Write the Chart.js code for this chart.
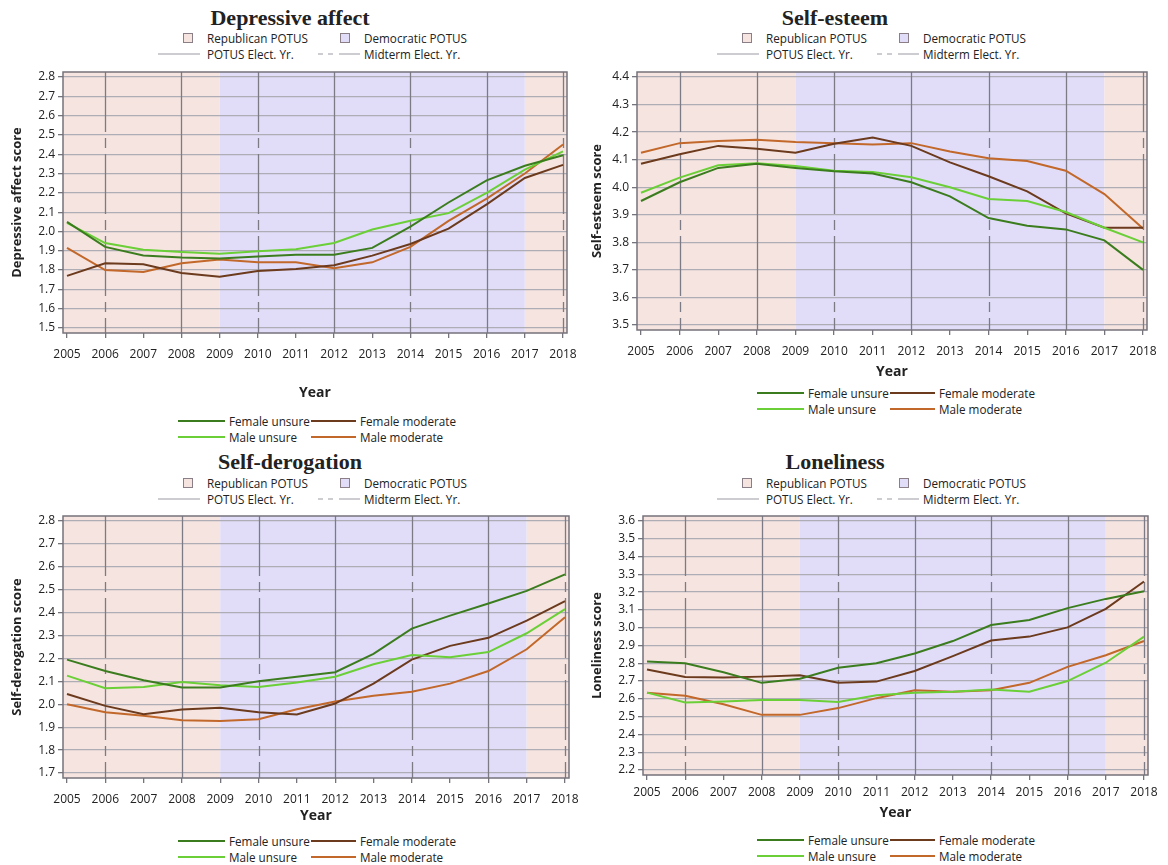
<!DOCTYPE html>
<html lang="en">
<head>
<meta charset="UTF-8">
<title>Wellbeing scores by year</title>
<script src="https://cdn.jsdelivr.net/npm/chart.js"></script>
<style>
    body {
        margin: 0;
        width: 1168px;
        height: 865px;
        position: relative;
        overflow: hidden;
        background: #fff;
        color: #222;
        font-family: 'Open Sans', sans-serif;
    }
    canvas { position: absolute; }
    .title {
        position: absolute;
        transform: translate(-50%, -50%);
        font-family: 'Liberation Serif', serif;
        font-weight: bold;
        font-size: 22px;
        white-space: nowrap;
    }
    .item {
        position: absolute;
        transform: translateY(-50%);
        font-size: 11.7px;
        white-space: nowrap;
    }
    .box {
        position: absolute;
        width: 8px;
        height: 8px;
        border: 1px solid #8a7f86;
        transform: translateY(-50%);
    }
    .ln {
        position: absolute;
        height: 0;
        transform: translateY(-50%);
    }
</style>
</head>
<body>
<script>
    const years = [2005, 2006, 2007, 2008, 2009, 2010, 2011, 2012, 2013, 2014, 2015, 2016, 2017, 2018];
    const seriesNames = ['Female unsure', 'Male unsure', 'Female moderate', 'Male moderate'];

    // Depressive affect
    const depTicks = [1.5, 1.6, 1.7, 1.8, 1.9, 2.0, 2.1, 2.2, 2.3, 2.4, 2.5, 2.6, 2.7, 2.8];
    const depFemaleUnsure   = [2.05, 1.92, 1.875, 1.865, 1.86, 1.87, 1.88, 1.88, 1.915, 2.025, 2.15, 2.265, 2.34, 2.395];
    const depMaleUnsure     = [2.045, 1.94, 1.905, 1.893, 1.885, 1.898, 1.908, 1.94, 2.01, 2.055, 2.095, 2.2, 2.32, 2.415];
    const depFemaleModerate = [1.77, 1.835, 1.83, 1.785, 1.765, 1.795, 1.805, 1.825, 1.875, 1.935, 2.015, 2.14, 2.277, 2.345];
    const depMaleModerate   = [1.915, 1.8, 1.79, 1.835, 1.855, 1.84, 1.84, 1.81, 1.84, 1.92, 2.055, 2.17, 2.3, 2.45];

    // Self-esteem
    const estTicks = [3.5, 3.6, 3.7, 3.8, 3.9, 4.0, 4.1, 4.2, 4.3, 4.4];
    const estFemaleUnsure   = [3.95, 4.018, 4.07, 4.085, 4.07, 4.058, 4.05, 4.018, 3.967, 3.888, 3.86, 3.847, 3.807, 3.7];
    const estMaleUnsure     = [3.98, 4.035, 4.08, 4.087, 4.077, 4.06, 4.055, 4.036, 4.0, 3.957, 3.95, 3.91, 3.853, 3.8];
    const estFemaleModerate = [4.085, 4.12, 4.15, 4.14, 4.125, 4.158, 4.18, 4.15, 4.09, 4.04, 3.985, 3.905, 3.853, 3.853];
    const estMaleModerate   = [4.125, 4.16, 4.168, 4.172, 4.164, 4.16, 4.155, 4.16, 4.13, 4.105, 4.095, 4.06, 3.975, 3.85];

    // Self-derogation
    const derTicks = [1.7, 1.8, 1.9, 2.0, 2.1, 2.2, 2.3, 2.4, 2.5, 2.6, 2.7, 2.8];
    const derFemaleUnsure   = [2.195, 2.145, 2.105, 2.073, 2.073, 2.1, 2.12, 2.14, 2.22, 2.33, 2.387, 2.44, 2.495, 2.567];
    const derMaleUnsure     = [2.125, 2.07, 2.075, 2.097, 2.083, 2.075, 2.095, 2.12, 2.175, 2.215, 2.205, 2.228, 2.31, 2.415];
    const derFemaleModerate = [2.045, 1.993, 1.957, 1.977, 1.985, 1.965, 1.955, 2.003, 2.09, 2.195, 2.255, 2.29, 2.365, 2.45];
    const derMaleModerate   = [2.0, 1.965, 1.95, 1.93, 1.927, 1.935, 1.978, 2.012, 2.037, 2.055, 2.09, 2.145, 2.24, 2.38];

    // Loneliness
    const lonTicks = [2.2, 2.3, 2.4, 2.5, 2.6, 2.7, 2.8, 2.9, 3.0, 3.1, 3.2, 3.3, 3.4, 3.5, 3.6];
    const lonFemaleUnsure   = [2.81, 2.8, 2.75, 2.69, 2.713, 2.775, 2.8, 2.855, 2.925, 3.015, 3.043, 3.11, 3.162, 3.205];
    const lonMaleUnsure     = [2.635, 2.58, 2.585, 2.594, 2.594, 2.583, 2.62, 2.635, 2.64, 2.653, 2.64, 2.7, 2.803, 2.95];
    const lonFemaleModerate = [2.765, 2.723, 2.72, 2.725, 2.733, 2.69, 2.697, 2.757, 2.84, 2.928, 2.95, 3.002, 3.106, 3.26];
    const lonMaleModerate   = [2.635, 2.617, 2.57, 2.51, 2.51, 2.548, 2.604, 2.648, 2.64, 2.648, 2.69, 2.78, 2.845, 2.925];

    // party of the president, and election years
    const partyPeriods = [['R', 2004, 2009], ['D', 2009, 2017], ['R', 2017, 2019]];
    const potusElectionYears = [2008, 2012, 2016];
    const midtermElectionYears = [2006, 2010, 2014, 2018];

    const colors = ['#3b7d1e', '#6bcf37', '#6c3a1c', '#c2682a'];
    const partyFill = { R: '#f6e4e0', D: '#e1ddf9' };
    const dashPattern = [60, 6, 10, 6];

    const panels = [
        { title: 'Depressive affect', yTitle: 'Depressive affect score', ticks: depTicks,
          series: [depFemaleUnsure, depMaleUnsure, depFemaleModerate, depMaleModerate],
          canvas: { x: 0, y: 64, w: 590, h: 341 }, area: { l: 63, r: 567, t: 72, b: 333 }, tickPad: 9,
          titleAt: [290, 18], legTop: [183, 38], legBottom: [178, 421] },
        { title: 'Self-esteem', yTitle: 'Self-esteem score', ticks: estTicks,
          series: [estFemaleUnsure, estMaleUnsure, estFemaleModerate, estMaleModerate],
          canvas: { x: 580, y: 64, w: 588, h: 320 }, area: { l: 637, r: 1147, t: 72, b: 330 }, tickPad: 9,
          titleAt: [835, 18], legTop: [742, 38], legBottom: [757, 393] },
        { title: 'Self-derogation', yTitle: 'Self-derogation score', ticks: derTicks,
          series: [derFemaleUnsure, derMaleUnsure, derFemaleModerate, derMaleModerate],
          canvas: { x: 0, y: 508, w: 590, h: 320 }, area: { l: 63, r: 569, t: 516, b: 778 }, tickPad: 9,
          titleAt: [290, 462], legTop: [183, 483], legBottom: [178, 841] },
        { title: 'Loneliness', yTitle: 'Loneliness score', ticks: lonTicks,
          series: [lonFemaleUnsure, lonMaleUnsure, lonFemaleModerate, lonMaleModerate],
          canvas: { x: 580, y: 508, w: 588, h: 317 }, area: { l: 643, r: 1148, t: 516, b: 775 }, tickPad: 5,
          titleAt: [835, 462], legTop: [742, 483], legBottom: [757, 840] }
    ];

    function add(cls, x, y, text, style) {
        const el = document.createElement('div');
        el.className = cls;
        el.style.left = x + 'px';
        el.style.top = y + 'px';
        if (text) el.textContent = text;
        if (style) Object.assign(el.style, style);
        document.body.appendChild(el);
        return el;
    }

    function solidLine(x, y, w, color) {
        add('ln', x, y, null, { width: w + 'px', borderTop: '2px solid ' + color });
    }

    function drawTopLegend(x0, y0) {
        const y1 = y0 + 16;
        add('box', x0, y0, null, { background: partyFill.R });
        add('item', x0 + 24, y0, 'Republican POTUS');
        add('box', x0 + 157, y0, null, { background: partyFill.D });
        add('item', x0 + 181, y0, 'Democratic POTUS');
        add('ln', x0 - 25, y1, null, { width: '42px', borderTop: '1px solid #9c9aa2' });
        add('item', x0 + 24, y1, 'POTUS Elect. Yr.');
        add('ln', x0 + 135, y1, null, { width: '5px', borderTop: '1px solid #9c9aa2' });
        add('ln', x0 + 145, y1, null, { width: '5px', borderTop: '1px solid #9c9aa2' });
        add('ln', x0 + 156, y1, null, { width: '21px', borderTop: '1px solid #9c9aa2' });
        add('item', x0 + 181, y1, 'Midterm Elect. Yr.');
    }

    function drawBottomLegend(x1, y0) {
        const y1 = y0 + 16;
        solidLine(x1, y0, 47, colors[0]);
        add('item', x1 + 51, y0, seriesNames[0]);
        solidLine(x1 + 133, y0, 45, colors[2]);
        add('item', x1 + 182, y0, seriesNames[2]);
        solidLine(x1, y1, 47, colors[1]);
        add('item', x1 + 51, y1, seriesNames[1]);
        solidLine(x1 + 133, y1, 45, colors[3]);
        add('item', x1 + 182, y1, seriesNames[3]);
    }

    const electionPlugin = {
        id: 'election',
        beforeDraw(chart) {
            const { ctx, chartArea: a, scales: { x } } = chart;
            ctx.save();
            partyPeriods.forEach(([party, from, to]) => {
                const x0 = Math.max(a.left, x.getPixelForValue(from));
                const x1 = Math.min(a.right, x.getPixelForValue(to));
                ctx.fillStyle = partyFill[party];
                ctx.fillRect(x0, a.top, x1 - x0, a.bottom - a.top);
            });
            ctx.restore();
        },
        beforeDatasetsDraw(chart) {
            const { ctx, chartArea: a, scales: { x } } = chart;
            ctx.save();
            ctx.strokeStyle = '#7c7a84';
            ctx.lineWidth = 1.3;
            potusElectionYears.forEach(yr => {
                const px = Math.round(x.getPixelForValue(yr)) + 0.5;
                ctx.beginPath(); ctx.moveTo(px, a.top); ctx.lineTo(px, a.bottom); ctx.stroke();
            });
            ctx.setLineDash(dashPattern);
            midtermElectionYears.forEach(yr => {
                const px = Math.round(x.getPixelForValue(yr)) + 0.5;
                ctx.beginPath(); ctx.moveTo(px, a.top); ctx.lineTo(px, a.bottom); ctx.stroke();
            });
            ctx.restore();
        },
        afterDatasetsDraw(chart) {
            const { ctx, chartArea: a } = chart;
            ctx.save();
            ctx.strokeStyle = '#75737b';
            ctx.lineWidth = 1.5;
            ctx.strokeRect(a.left, a.top, a.right - a.left, a.bottom - a.top);
            ctx.restore();
        }
    };

    panels.forEach(p => {
        const c = p.canvas, a = p.area;
        add('title', p.titleAt[0], p.titleAt[1], p.title);
        drawTopLegend(p.legTop[0], p.legTop[1]);
        drawBottomLegend(p.legBottom[0], p.legBottom[1]);

        const cv = document.createElement('canvas');
        cv.width = c.w; cv.height = c.h;
        cv.style.left = c.x + 'px'; cv.style.top = c.y + 'px';
        document.body.appendChild(cv);

        const tickLo = p.ticks[0], tickHi = p.ticks[p.ticks.length - 1];
        const yPad = (tickHi - tickLo) * 5 / (a.b - a.t - 10);
        const xPad = 13 * 4 / (a.r - a.l - 8);

        new Chart(cv, {
            type: 'line',
            data: {
                datasets: p.series.map((vals, i) => ({
                    label: seriesNames[i],
                    data: years.map((yr, j) => ({ x: yr, y: vals[j] })),
                    borderColor: colors[i],
                    borderWidth: 2,
                    pointRadius: 0,
                    tension: 0,
                    fill: false
                }))
            },
            options: {
                responsive: false,
                animation: false,
                devicePixelRatio: 1,
                layout: { padding: { left: 0, top: a.t - c.y, right: c.x + c.w - a.r, bottom: 0 } },
                plugins: { legend: { display: false }, tooltip: { enabled: false } },
                scales: {
                    x: {
                        type: 'linear',
                        min: years[0] - xPad,
                        max: years[years.length - 1] + xPad,
                        afterBuildTicks: s => { s.ticks = years.map(v => ({ value: v })); },
                        afterFit: s => {
                            s.height = c.y + c.h - a.b;
                            s.paddingLeft = 0;
                            s.paddingRight = 0;
                        },
                        ticks: {
                            autoSkip: false, maxRotation: 0, padding: p.tickPad, color: '#222',
                            font: { family: 'Open Sans', size: 12 },
                            callback: v => String(v)
                        },
                        grid: { drawOnChartArea: false, tickLength: 5, tickColor: '#75737b', lineWidth: 1.3 },
                        border: { display: false },
                        title: {
                            display: true, text: 'Year', color: '#222',
                            font: { family: 'Open Sans', size: 14, weight: 'bold' },
                            padding: { top: 0, bottom: 4 }
                        }
                    },
                    y: {
                        min: tickLo - yPad,
                        max: tickHi + yPad,
                        afterBuildTicks: s => { s.ticks = p.ticks.map(v => ({ value: v })); },
                        afterFit: s => {
                            s.width = a.l - c.x;
                            s.paddingTop = 0;
                            s.paddingBottom = 0;
                        },
                        ticks: {
                            padding: 3, color: '#222',
                            font: { family: 'Open Sans', size: 12 },
                            callback: v => v.toFixed(1)
                        },
                        grid: { color: '#aeacb4', lineWidth: 1.3, tickLength: 5, tickColor: '#75737b' },
                        border: { display: false },
                        title: {
                            display: true, text: p.yTitle, color: '#222',
                            font: { family: 'Open Sans', size: 13, weight: 'bold' },
                            padding: { top: 9, bottom: 0 }
                        }
                    }
                }
            },
            plugins: [electionPlugin]
        });
    });
</script>
</body>
</html>
